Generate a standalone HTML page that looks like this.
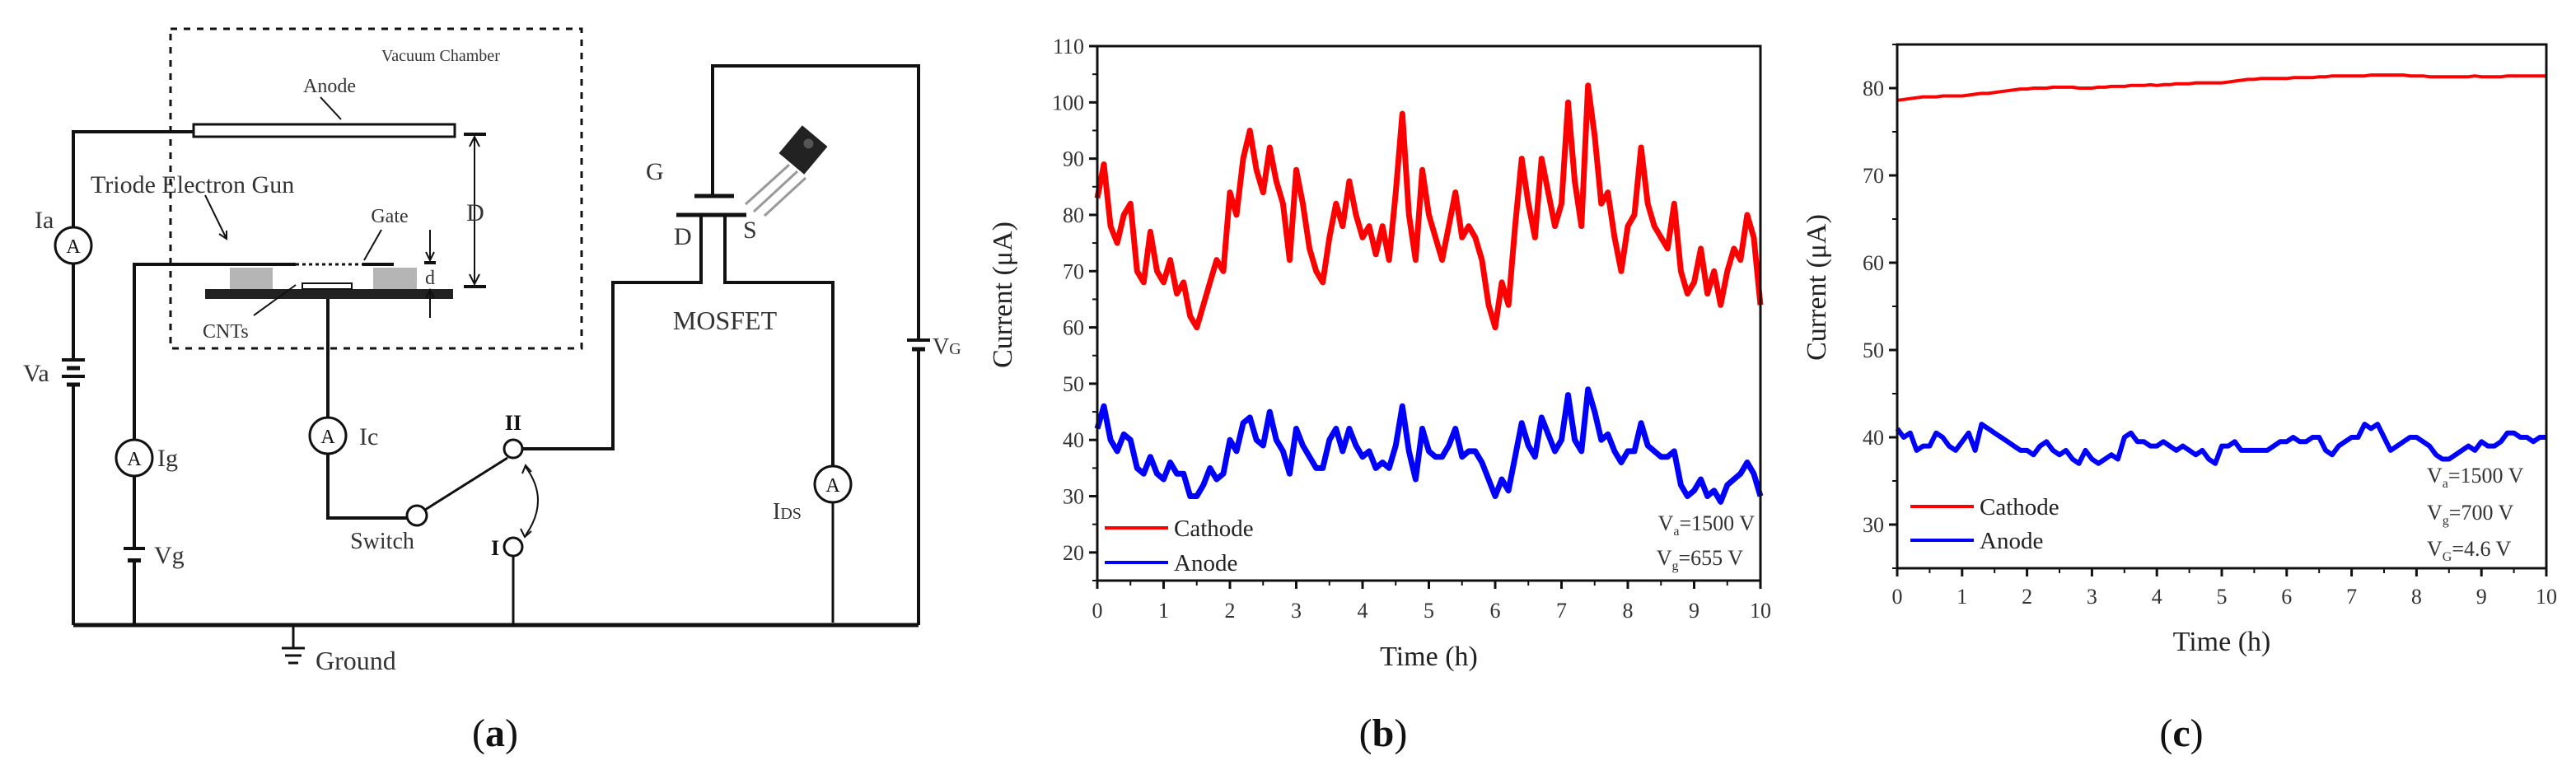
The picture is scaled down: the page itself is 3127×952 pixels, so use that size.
<!DOCTYPE html>
<html><head><meta charset="utf-8"><style>
html,body{margin:0;padding:0;background:#fff;}
svg{display:block;font-family:"Liberation Serif",serif;}
</style></head>
<body>
<svg id="fig" width="3127" height="952" viewBox="0 0 3127 952" xmlns="http://www.w3.org/2000/svg">
<g stroke="#111" fill="none" stroke-width="4">
  <rect x="207" y="35" width="499" height="388" stroke-dasharray="8,8" stroke-width="3"/>
  <rect x="235" y="151" width="317" height="15" fill="#fff" stroke-width="3"/>
  <line x1="389" y1="118" x2="414" y2="145" stroke-width="2"/>
  <polyline points="235,160 89,160 89,276"/>
  <circle cx="89" cy="298" r="22" stroke-width="3"/>
  <line x1="89" y1="320" x2="89" y2="437"/>
  <line x1="75" y1="437" x2="103" y2="437"/><line x1="81" y1="447" x2="97" y2="447" stroke-width="5"/>
  <line x1="75" y1="457" x2="103" y2="457"/><line x1="81" y1="467" x2="97" y2="467" stroke-width="5"/>
  <line x1="89" y1="467" x2="89" y2="759"/>
  <line x1="89" y1="759" x2="1115" y2="759" stroke-width="5"/>
  <line x1="563" y1="163" x2="590" y2="163"/><line x1="563" y1="348" x2="590" y2="348"/>
  <line x1="576" y1="166" x2="576" y2="345" stroke-width="2"/>
  <polyline points="570,178 576,166 582,178" stroke-width="2"/><polyline points="570,333 576,345 582,333" stroke-width="2"/>
  <polyline points="163,759 163,321 359,321"/>
  <line x1="359" y1="321" x2="440" y2="321" stroke-dasharray="4,4" stroke-width="3"/>
  <line x1="440" y1="321" x2="478" y2="321"/>
  <line x1="463" y1="279" x2="442" y2="316" stroke-width="2"/>
  <rect x="279" y="325" width="52" height="26" fill="#b5b5b5" stroke="none"/>
  <rect x="453" y="325" width="53" height="26" fill="#b5b5b5" stroke="none"/>
  <rect x="249" y="351" width="301" height="12" fill="#222" stroke="none"/>
  <rect x="367" y="344" width="60" height="7" fill="#fff" stroke-width="2"/>
  <line x1="308" y1="383" x2="359" y2="346" stroke-width="2"/>
  <line x1="249" y1="237" x2="275" y2="290" stroke-width="2"/><polyline points="266,284 275,290 275,280" stroke-width="2"/>
  <line x1="522" y1="279" x2="522" y2="316" stroke-width="2"/><polyline points="517,306 522,316 527,306" stroke-width="2"/>
  <line x1="515" y1="319" x2="529" y2="319"/>
  <line x1="522" y1="386" x2="522" y2="352" stroke-width="2"/><polyline points="517,362 522,352 527,362" stroke-width="2"/>
  <circle cx="163" cy="556" r="22" fill="#fff" stroke-width="3"/>
  <line x1="150" y1="666" x2="176" y2="666" fill="none"/><line x1="155" y1="680" x2="171" y2="680" stroke-width="6"/>
  <rect x="150" y="668" width="26" height="10" fill="#fff" stroke="none"/>
  <polyline points="398,363 398,629 494,629"/>
  <circle cx="398" cy="529" r="22" fill="#fff" stroke-width="3"/>
  <circle cx="506" cy="626" r="12" fill="#fff" stroke-width="3"/>
  <line x1="516" y1="619" x2="616" y2="556" stroke-width="3"/>
  <circle cx="623" cy="545" r="11" fill="#fff" stroke-width="3"/>
  <circle cx="623" cy="664" r="11" fill="#fff" stroke-width="3"/>
  <line x1="623" y1="675" x2="623" y2="759" stroke-width="3"/>
  <path d="M638,567 Q668,607 638,650" stroke-width="2"/>
  <polyline points="634,575 638,565 645,573" stroke-width="2"/><polyline points="632,642 637,652 645,645" stroke-width="2"/>
  <polyline points="634,545 744,545 744,343 851,343 851,261"/>
  <polyline points="880,261 880,343 1011,343 1011,566"/>
  <circle cx="1011" cy="588" r="22" fill="#fff" stroke-width="3"/>
  <line x1="1011" y1="610" x2="1011" y2="756" stroke-width="3"/>
  <line x1="821" y1="261" x2="906" y2="261" stroke-width="5"/>
  <line x1="843" y1="238" x2="891" y2="238" stroke-width="5"/>
  <polyline points="865,238 865,80 1115,80 1115,412"/>
  <line x1="1101" y1="413" x2="1129" y2="413"/><line x1="1107" y1="424" x2="1123" y2="424" stroke-width="5"/>
  <line x1="1115" y1="424" x2="1115" y2="759"/>
  <line x1="1115" y1="759" x2="1011" y2="759" stroke-width="5"/>
  <line x1="356" y1="759" x2="356" y2="786" stroke-width="3"/>
  <line x1="342" y1="787" x2="370" y2="787" stroke-width="3"/><line x1="346" y1="796" x2="366" y2="796" stroke-width="3"/><line x1="350" y1="805" x2="362" y2="805" stroke-width="3"/>
</g>
<g>
  <g transform="rotate(40 975 182)"><rect x="955" y="160" width="40" height="44" fill="#222"/><circle cx="975" cy="172" r="6" fill="#555"/></g>
  <line x1="958" y1="200" x2="905" y2="248" stroke="#999" stroke-width="3"/>
  <line x1="968" y1="208" x2="915" y2="257" stroke="#999" stroke-width="3"/>
  <line x1="978" y1="216" x2="928" y2="262" stroke="#999" stroke-width="3"/>
</g>
<g fill="#333" font-size="26">
  <text x="463" y="74" font-size="20">Vacuum Chamber</text>
  <text x="400" y="112" text-anchor="middle" font-size="24">Anode</text>
  <text x="110" y="234" font-size="30">Triode  Electron Gun</text>
  <text x="473" y="270" text-anchor="middle" font-size="24">Gate</text>
  <text x="577" y="268" text-anchor="middle" font-size="30">D</text>
  <text x="522" y="345" text-anchor="middle" font-size="24">d</text>
  <text x="246" y="410" font-size="24">CNTs</text>
  <text x="42" y="277" font-size="30">Ia</text>
  <text x="89" y="307" text-anchor="middle" font-size="24" fill="#111">A</text>
  <text x="28" y="463" font-size="30">Va</text>
  <text x="163" y="565" text-anchor="middle" font-size="24" fill="#111">A</text>
  <text x="191" y="566" font-size="30">Ig</text>
  <text x="187" y="684" font-size="30">Vg</text>
  <text x="398" y="538" text-anchor="middle" font-size="24" fill="#111">A</text>
  <text x="436" y="540" font-size="30">Ic</text>
  <text x="464" y="666" text-anchor="middle" font-size="28">Switch</text>
  <text x="623" y="522" text-anchor="middle" font-size="26" font-weight="bold" fill="#111">II</text>
  <text x="601" y="674" text-anchor="middle" font-size="26" font-weight="bold" fill="#111">I</text>
  <text x="1011" y="597" text-anchor="middle" font-size="24" fill="#111">A</text>
  <text x="938" y="630" font-size="28">I<tspan font-size="20">DS</tspan></text>
  <text x="784" y="218" font-size="30">G</text>
  <text x="818" y="297" font-size="30">D</text>
  <text x="902" y="289" font-size="30">S</text>
  <text x="880" y="400" text-anchor="middle" font-size="32">MOSFET</text>
  <text x="1132" y="430" font-size="28">V<tspan font-size="20">G</tspan></text>
  <text x="383" y="813" font-size="32">Ground</text>
</g>
<text x="601" y="906" text-anchor="middle" font-size="48" fill="#111">(<tspan font-weight="bold">a</tspan>)</text>
<text x="1679" y="906" text-anchor="middle" font-size="48" fill="#111">(<tspan font-weight="bold">b</tspan>)</text>
<text x="2648" y="906" text-anchor="middle" font-size="48" fill="#111">(<tspan font-weight="bold">c</tspan>)</text>
<g id="chartB"></g>
<g id="chartC"></g>
</svg>
<script>
var timeB = [0,0.1,0.2,0.3,0.4,0.5,0.6,0.7,0.8,0.9,1,1.1,1.2,1.3,1.4,1.5,1.6,1.7,1.8,1.9,2,2.1,2.2,2.3,2.4,2.5,2.6,2.7,2.8,2.9,3,3.1,3.2,3.3,3.4,3.5,3.6,3.7,3.8,3.9,4,4.1,4.2,4.3,4.4,4.5,4.6,4.7,4.8,4.9,5,5.1,5.2,5.3,5.4,5.5,5.6,5.7,5.8,5.9,6,6.1,6.2,6.3,6.4,6.5,6.6,6.7,6.8,6.9,7,7.1,7.2,7.3,7.4,7.5,7.6,7.7,7.8,7.9,8,8.1,8.2,8.3,8.4,8.5,8.6,8.7,8.8,8.9,9,9.1,9.2,9.3,9.4,9.5,9.6,9.7,9.8,9.9,10];
var cathodeB = [83,89,78,75,80,82,70,68,77,70,68,72,66,68,62,60,64,68,72,70,84,80,90,95,88,84,92,86,82,72,88,82,74,70,68,76,82,78,86,80,76,78,73,78,72,84,98,80,72,88,80,76,72,78,84,76,78,76,72,64,60,68,64,78,90,82,76,90,84,78,82,100,86,78,103,94,82,84,76,70,78,80,92,82,78,76,74,82,70,66,68,74,66,70,64,70,74,72,80,76,64];
var anodeB = [42,46,40,38,41,40,35,34,37,34,33,36,34,34,30,30,32,35,33,34,40,38,43,44,40,39,45,40,38,34,42,39,37,35,35,40,42,38,42,39,37,38,35,36,35,39,46,38,33,42,38,37,37,39,42,37,38,38,36,33,30,33,31,37,43,39,37,44,41,38,40,48,40,38,49,45,40,41,38,36,38,38,43,39,38,37,37,38,32,30,31,33,30,31,29,32,33,34,36,34,30];
var xTicksB = [0,1,2,3,4,5,6,7,8,9,10];
var yTicksB = [20,30,40,50,60,70,80,90,100,110];
var timeC = timeB;
var cathodeC = [78.6,78.7,78.8,78.9,79.0,79.0,79.0,79.1,79.1,79.1,79.1,79.2,79.3,79.4,79.4,79.5,79.6,79.7,79.8,79.9,79.9,80.0,80.0,80.0,80.1,80.1,80.1,80.1,80.0,80.0,80.0,80.1,80.1,80.2,80.2,80.2,80.3,80.3,80.3,80.4,80.3,80.4,80.4,80.5,80.5,80.5,80.6,80.6,80.6,80.6,80.6,80.7,80.8,80.9,81.0,81.0,81.1,81.1,81.1,81.1,81.1,81.2,81.2,81.2,81.2,81.3,81.3,81.4,81.4,81.4,81.4,81.4,81.4,81.5,81.5,81.5,81.5,81.5,81.5,81.4,81.4,81.4,81.3,81.3,81.3,81.3,81.3,81.3,81.3,81.4,81.3,81.3,81.3,81.3,81.4,81.4,81.4,81.4,81.4,81.4,81.4];
var anodeC = [41,40,40.5,38.5,39,39,40.5,40,39,38.5,39.5,40.5,38.5,41.5,41,40.5,40,39.5,39,38.5,38.5,38,39,39.5,38.5,38,38.5,37.5,37,38.5,37.5,37,37.5,38,37.5,40,40.5,39.5,39.5,39,39,39.5,39,38.5,39,38.5,38,38.5,37.5,37,39,39,39.5,38.5,38.5,38.5,38.5,38.5,39,39.5,39.5,40,39.5,39.5,40,40,38.5,38,39,39.5,40,40,41.5,41,41.5,40,38.5,39,39.5,40,40,39.5,39,38,37.5,37.5,38,38.5,39,38.5,39.5,39,39,39.5,40.5,40.5,40,40,39.5,40,40];
var xTicksC = [0,1,2,3,4,5,6,7,8,9,10];
var yTicksC = [30,40,50,60,70,80];

var NS = 'http://www.w3.org/2000/svg';
function mk(parent, tag, attrs) {
  var e = document.createElementNS(NS, tag);
  for (var k in attrs) e.setAttribute(k, attrs[k]);
  parent.appendChild(e);
  return e;
}
function drawChart(g, cfg) {
  var L = cfg.left, R = cfg.right, T = cfg.top, B = cfg.bottom;
  function sx(v) { return L + (v - cfg.xmin) / (cfg.xmax - cfg.xmin) * (R - L); }
  function sy(v) { return B - (v - cfg.ymin) / (cfg.ymax - cfg.ymin) * (B - T); }
  cfg.series.forEach(function (s) {
    var pts = s.xs.map(function (x, i) { return sx(x).toFixed(1) + ',' + sy(s.ys[i]).toFixed(1); }).join(' ');
    var pl = mk(g, 'polyline', {points: pts, fill: 'none', stroke: s.color, 'stroke-width': s.width, 'stroke-linejoin': 'round'});
    
    
  });
  var frame = mk(g, 'rect', {x: L, y: T, width: R - L, height: B - T, fill: 'none', stroke: '#111', 'stroke-width': 3});
  
  
  cfg.yTicks.forEach(function (v) {
    var y = sy(v);
    mk(g, 'line', {x1: L - 10, y1: y, x2: L, y2: y, stroke: '#111', 'stroke-width': 3});
    var t = mk(g, 'text', {x: L - 16, y: y + 9, 'text-anchor': 'end', 'font-size': 26, fill: '#333'});
    t.textContent = v;
    
    
  });
  for (var v = cfg.ymin; v <= cfg.ymax + 0.01; v += 5) {
    if (v % 10 !== 0) { var y2 = sy(v); mk(g, 'line', {x1: L - 6, y1: y2, x2: L, y2: y2, stroke: '#111', 'stroke-width': 2}); }
  }
  cfg.xTicks.forEach(function (v) {
    var x = sx(v);
    mk(g, 'line', {x1: x, y1: B, x2: x, y2: B + 10, stroke: '#111', 'stroke-width': 3});
    if (v < 10) { var xm = sx(v + 0.5); mk(g, 'line', {x1: xm, y1: B, x2: xm, y2: B + 6, stroke: '#111', 'stroke-width': 2}); }
    var t = mk(g, 'text', {x: x, y: cfg.xLabelY, 'text-anchor': 'middle', 'font-size': 26, fill: '#333'});
    t.textContent = v;
    
    
  });
  var xt = mk(g, 'text', {x: (L + R) / 2, y: cfg.xTitleY, 'text-anchor': 'middle', 'font-size': 34, fill: '#222'});
  xt.textContent = 'Time (h)';
  
  
  var yt = mk(g, 'text', {x: 0, y: 0, 'text-anchor': 'middle', 'font-size': 34, fill: '#222', transform: 'translate(' + cfg.yTitleX + ',' + cfg.yTitleY + ') rotate(-90)'});
  yt.textContent = 'Current (\u03bcA)';
  
  
  cfg.series.forEach(function (s, i) {
    var ly = cfg.legY[i];
    var ll = mk(g, 'line', {x1: cfg.legX, y1: ly, x2: cfg.legX + 77, y2: ly, stroke: s.color, 'stroke-width': 4});
    
    
    var lt = mk(g, 'text', {x: cfg.legX + 84, y: ly + 10, 'font-size': 29, fill: '#222'});
    lt.textContent = s.label;
    
    
  });
  cfg.notes.forEach(function (n) {
    var t = mk(g, 'text', {x: n.x, y: n.y, 'text-anchor': n.anchor, 'font-size': 26, fill: '#333'});
    t.innerHTML = 'V<tspan font-size="16" dy="6">' + n.sub + '</tspan><tspan dy="-6">=' + n.val + '</tspan>';
    
    
  });
}
drawChart(document.getElementById('chartB'), {
  left: 1332, right: 2137, top: 56, bottom: 705, xmin: 0, xmax: 10, ymin: 15, ymax: 110,
  xTicks: xTicksB, yTicks: yTicksB, xLabelY: 750, xTitleY: 808, yTitleX: 1228, yTitleY: 358,
  series: [
    {name: 'cathode-line', label: 'Cathode', color: '#ff0000', width: 7, xs: timeB, ys: cathodeB},
    {name: 'anode-line', label: 'Anode', color: '#0000ff', width: 7, xs: timeB, ys: anodeB}
  ],
  legX: 1341, legY: [641, 683],
  notes: [{x: 2130, y: 644, anchor: 'end', sub: 'a', val: '1500 V'}, {x: 2116, y: 686, anchor: 'end', sub: 'g', val: '655 V'}]
});
drawChart(document.getElementById('chartC'), {
  left: 2303, right: 3091, top: 54, bottom: 690, xmin: 0, xmax: 10, ymin: 25, ymax: 85,
  xTicks: xTicksC, yTicks: yTicksC, xLabelY: 733, xTitleY: 790, yTitleX: 2216, yTitleY: 349,
  series: [
    {name: 'cathode-line', label: 'Cathode', color: '#ff0000', width: 4, xs: timeC, ys: cathodeC},
    {name: 'anode-line', label: 'Anode', color: '#0000ff', width: 6, xs: timeC, ys: anodeC}
  ],
  legX: 2319, legY: [615, 656],
  notes: [{x: 2946, y: 586, anchor: 'start', sub: 'a', val: '1500 V'}, {x: 2946, y: 631, anchor: 'start', sub: 'g', val: '700 V'}, {x: 2946, y: 675, anchor: 'start', sub: 'G', val: '4.6 V'}]
});
</script>
</body></html>
